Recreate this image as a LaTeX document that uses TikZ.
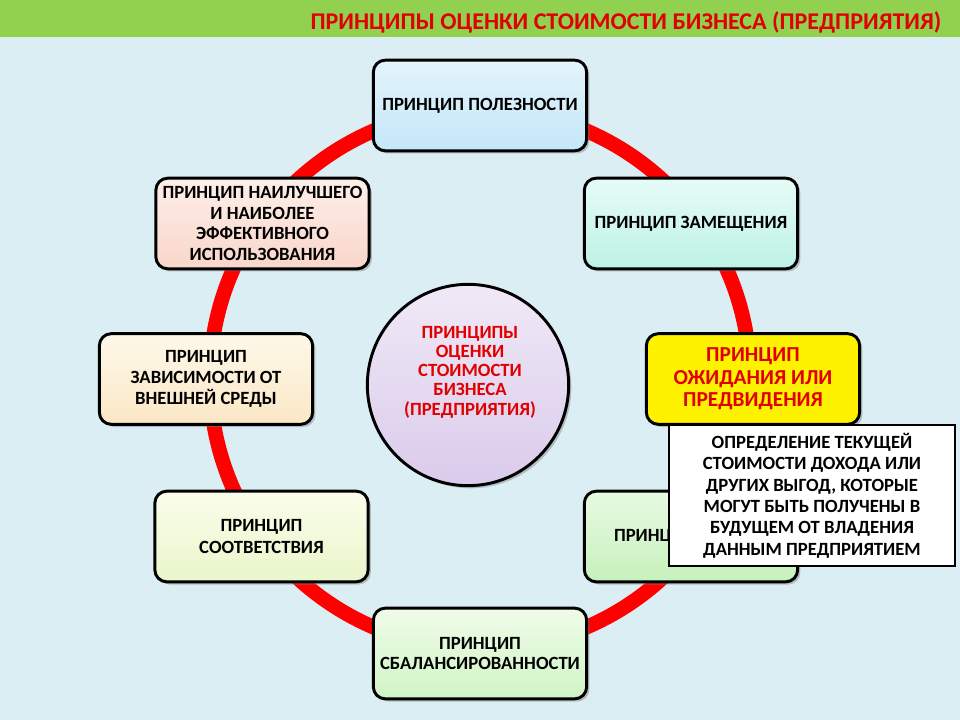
\documentclass[tikz,border=0pt]{standalone}
\usepackage{fontspec}
\setmainfont{Carlito}
\usetikzlibrary{shadows}

\definecolor{bgblue}{HTML}{DBEEF4}
\definecolor{titlegreen}{HTML}{92D050}
\definecolor{titlered}{HTML}{E00000}
\definecolor{ringred}{HTML}{FF0000}

\begin{document}
\begin{tikzpicture}[x=0.75pt,y=-0.75pt,
    princ/.style={draw, line width=2.2pt, rounded corners=9pt,
      minimum width=160pt, minimum height=68pt, align=center,
      font=\bfseries\fontsize{14}{15.5}\selectfont,
      drop shadow={shadow xshift=2pt, shadow yshift=-2pt, opacity=.45}},
    centre/.style={draw, circle, line width=2.2pt, minimum size=151pt,
      top color={rgb,255:red,240;green,233;blue,246}, bottom color={rgb,255:red,218;green,203;blue,235},
      drop shadow={shadow xshift=2pt, shadow yshift=-2pt, opacity=.45}},
    note/.style={draw, fill=white, line width=1.5pt, minimum width=214pt,
      minimum height=106pt, align=center,
      font=\bfseries\fontsize{14}{16}\selectfont}]

    \useasboundingbox (0,0) rectangle (960,720);
    \fill[bgblue] (0,0) rectangle (960,720);
    \fill[titlegreen] (0,0) rectangle (960,37);
    \node (title) [anchor=east, text=titlered, font=\bfseries\fontsize{18}{20}\selectfont] at (946,22) {ПРИНЦИПЫ ОЦЕНКИ СТОИМОСТИ БИЗНЕСА (ПРЕДПРИЯТИЯ)};

    % red ring behind the boxes
    \draw[ringred, line width=11pt] (480,379) circle (270);

    \node (pol) [princ, top color={rgb,255:red,228;green,244;blue,251}, bottom color={rgb,255:red,196;green,231;blue,248}] at (480,105.5) {ПРИНЦИП ПОЛЕЗНОСТИ};
    \node (zam) [princ, top color={rgb,255:red,231;green,251;blue,247}, bottom color={rgb,255:red,188;green,242;blue,228}] at (691,223.5) {ПРИНЦИП ЗАМЕЩЕНИЯ};
    \node (ozh) [princ, fill=yellow, text=titlered, font=\bfseries\fontsize{16}{17}\selectfont] at (753,379) {ПРИНЦИП\\ОЖИДАНИЯ ИЛИ\\ПРЕДВИДЕНИЯ};
    \node (vkl) [princ, top color={rgb,255:red,232;green,250;blue,226}, bottom color={rgb,255:red,198;green,241;blue,188}] at (691,536.5) {ПРИНЦИП ВКЛАДА};
    \node (bal) [princ, top color={rgb,255:red,239;green,252;blue,233}, bottom color={rgb,255:red,208;green,244;blue,196}] at (480,653.5) {ПРИНЦИП\\СБАЛАНСИРОВАННОСТИ};
    \node (sootv) [princ, font=\bfseries\fontsize{14}{16}\selectfont, top color={rgb,255:red,250;green,253;blue,234}, bottom color={rgb,255:red,233;green,246;blue,203}] at (261.5,536.5) {ПРИНЦИП\\СООТВЕТСТВИЯ};
    \node (zav) [princ, top color={rgb,255:red,254;green,248;blue,233}, bottom color={rgb,255:red,251;green,231;blue,198}] at (206,379) {ПРИНЦИП\\ЗАВИСИМОСТИ ОТ\\ВНЕШНЕЙ СРЕДЫ};
    \node (nail) [princ, top color={rgb,255:red,253;green,239;blue,233}, bottom color={rgb,255:red,249;green,214;blue,202}] at (262.5,223.5) {ПРИНЦИП НАИЛУЧШЕГО\\И НАИБОЛЕЕ\\ЭФФЕКТИВНОГО\\ИСПОЛЬЗОВАНИЯ};

    \node (main) [centre] at (468,385) {};
    \node (mainTxt) [align=center, text=titlered, font=\bfseries\fontsize{14}{14.4}\selectfont] at (470,372) {ПРИНЦИПЫ\\ОЦЕНКИ\\СТОИМОСТИ\\БИЗНЕСА\\(ПРЕДПРИЯТИЯ)};

    % explanation for the expectation principle
    \node (ozhNote) [note] at (812,495.5) {ОПРЕДЕЛЕНИЕ ТЕКУЩЕЙ\\СТОИМОСТИ ДОХОДА ИЛИ\\ДРУГИХ ВЫГОД, КОТОРЫЕ\\МОГУТ БЫТЬ ПОЛУЧЕНЫ В\\БУДУЩЕМ ОТ ВЛАДЕНИЯ\\ДАННЫМ ПРЕДПРИЯТИЕМ};

\end{tikzpicture}
\end{document}
